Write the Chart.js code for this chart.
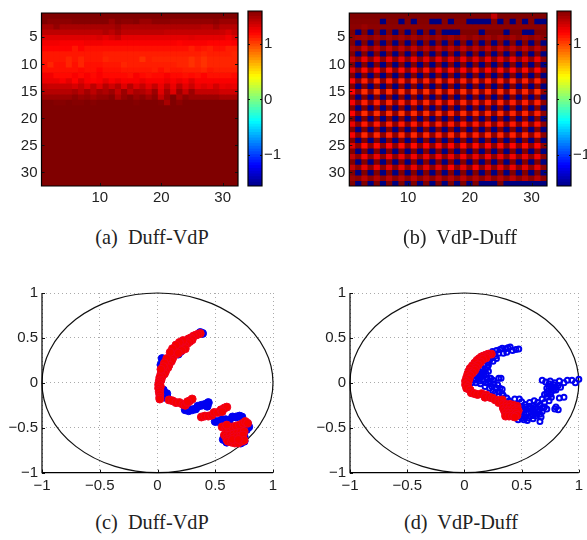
<!DOCTYPE html>
<html>
<head>
<title>Duff-VdP</title>
<script src="https://cdn.jsdelivr.net/npm/chart.js"></script>
<style>
    body { margin: 0; background: #fff; }
    #page { position: relative; width: 587px; height: 540px; overflow: hidden; }
    canvas { position: absolute; }
    .cap { position: absolute; width: 160px; text-align: center; font: 20.3px "Liberation Serif", serif; color: #222; white-space: pre; }
</style>
</head>
<body>
<div id="page">
    <canvas id="heatA" width="245" height="215" style="left:0;top:0"></canvas>
    <canvas id="barA" width="47" height="215" style="left:240px;top:0"></canvas>
    <canvas id="heatB" width="250" height="215" style="left:305px;top:0"></canvas>
    <canvas id="barB" width="38" height="215" style="left:549px;top:0"></canvas>
    <canvas id="scatC" width="287" height="215" style="left:0;top:280px"></canvas>
    <canvas id="scatD" width="279" height="215" style="left:308px;top:280px"></canvas>
    <div class="cap" style="left:72px;top:226px">(a)  Duff-VdP</div>
    <div class="cap" style="left:380px;top:226px">(b)  VdP-Duff</div>
    <div class="cap" style="left:72px;top:511px">(c)  Duff-VdP</div>
    <div class="cap" style="left:381px;top:511px">(d)  VdP-Duff</div>
</div>
<script>
const columns = ['1','2','3','4','5','6','7','8','9','10','11','12','13','14','15','16','17','18','19','20','21','22','23','24','25','26','27','28','29','30','31','32'];
const heatTicks = [5, 10, 15, 20, 25, 30];
const barTicks = [-1, 0, 1];
const unitTicks = [-1, -0.5, 0, 0.5, 1];
const barLevels = [-1.575,-1.525,-1.475,-1.425,-1.375,-1.325,-1.275,-1.225,-1.175,-1.125,-1.075,-1.025,-0.975,-0.925,-0.875,-0.825,-0.775,-0.725,-0.675,-0.625,-0.575,-0.525,-0.475,-0.425,-0.375,-0.325,-0.275,-0.225,-0.175,-0.125,-0.075,-0.025,0.025,0.075,0.125,0.175,0.225,0.275,0.325,0.375,0.425,0.475,0.525,0.575,0.625,0.675,0.725,0.775,0.825,0.875,0.925,0.975,1.025,1.075,1.125,1.175,1.225,1.275,1.325,1.375,1.425,1.475,1.525,1.575];

// (a) Duff-VdP, one row per line
const heatDuffVdp = [
[1.52,1.52,1.52,1.53,1.53,1.53,1.52,1.52,1.53,1.53,1.53,1.52,1.52,1.52,1.53,1.53,1.52,1.52,1.52,1.52,1.52,1.52,1.5,1.5,1.5,1.53,1.53,1.53,1.5,1.5,1.5,1.5],
[1.5,1.46,1.46,1.46,1.46,1.48,1.48,1.48,1.48,1.48,1.48,1.42,1.48,1.46,1.46,1.48,1.42,1.42,1.46,1.46,1.46,1.44,1.44,1.44,1.44,1.44,1.44,1.44,1.46,1.42,1.42,1.42],
[1.38,1.38,1.44,1.38,1.38,1.38,1.38,1.38,1.38,1.38,1.38,1.38,1.42,1.36,1.36,1.36,1.36,1.36,1.36,1.36,1.36,1.36,1.36,1.36,1.36,1.36,1.34,1.34,1.4,1.34,1.34,1.34],
[1.32,1.32,1.32,1.32,1.32,1.32,1.32,1.32,1.32,1.32,1.36,1.32,1.38,1.32,1.32,1.32,1.32,1.32,1.32,1.32,1.3,1.3,1.3,1.3,1.3,1.3,1.3,1.3,1.3,1.28,1.24,1.3],
[1.22,1.22,1.22,1.22,1.22,1.22,1.22,1.22,1.22,1.24,1.2,1.24,1.28,1.2,1.2,1.2,1.2,1.2,1.2,1.2,1.2,1.2,1.2,1.2,1.22,1.2,1.2,1.2,1.2,1.2,1.16,1.22],
[1.16,1.16,1.16,1.14,1.14,1.14,1.14,1.16,1.16,1.16,1.14,1.14,1.14,1.14,1.14,1.14,1.14,1.14,1.14,1.14,1.14,1.14,1.12,1.14,1.14,1.14,1.14,1.12,1.12,1.12,1.12,1.14],
[1.12,1.12,1.12,1.12,1.12,1.06,1.12,1.08,1.08,1.08,1.08,1.08,1.08,1.08,1.08,1.08,1.08,1.08,1.08,1.08,1.08,1.08,1.08,1.08,1.04,1.08,1.06,1.04,1.08,1.08,1.04,1.04],
[1.06,1.06,1.06,1.06,1.06,1.06,1.06,1.06,1.06,1.06,1.04,1.04,1.04,1.04,1.04,1.04,1.04,1.04,1.04,1.04,1.04,1.04,1.04,1.04,1.04,1.04,1.02,1.04,1.04,1.04,1.04,1.02],
[1.06,1.06,1.06,1.06,1.02,1.06,1.02,1.06,1.06,1.06,1.02,1.04,1.04,1.04,1.04,1.04,0.98,1.04,1.02,1.02,1.02,1.02,1.02,1.02,0.98,1.02,0.98,1.02,1.02,1.02,1.02,1.02],
[1.08,1.02,1.08,1.08,1.02,1.08,1.02,1.08,1.08,1.08,1.06,1.06,1.06,1.02,1.04,1.04,1.04,1.04,1.04,1.04,1.04,1.04,1.02,1.02,0.98,1.02,0.98,1.02,1.02,1.02,1.02,1.02],
[1.08,1.08,1.08,1.08,1.08,1.08,1.1,1.08,1.08,1.12,1.08,1.08,1.08,1.06,1.06,1.06,1.06,1.06,1.04,1.08,1.04,1.06,1.06,1.04,1.04,1.04,1.02,1.06,1.04,1.04,1.04,1.04],
[1.16,1.16,1.1,1.1,1.1,1.14,1.1,1.14,1.1,1.14,1.1,1.1,1.1,1.1,1.08,1.14,1.1,1.08,1.1,1.1,1.14,1.1,1.1,1.08,1.1,1.08,1.12,1.08,1.08,1.08,1.08,1.1],
[1.18,1.18,1.18,1.14,1.2,1.12,1.22,1.14,1.12,1.14,1.2,1.14,1.18,1.14,1.14,1.14,1.18,1.14,1.14,1.14,1.18,1.14,1.18,1.14,1.22,1.14,1.14,1.14,1.14,1.14,1.14,1.14],
[1.3,1.28,1.28,1.28,1.28,1.24,1.3,1.22,1.32,1.22,1.34,1.26,1.34,1.22,1.34,1.22,1.3,1.2,1.3,1.18,1.3,1.18,1.32,1.2,1.28,1.18,1.22,1.18,1.26,1.18,1.2,1.18],
[1.34,1.34,1.34,1.34,1.34,1.38,1.32,1.4,1.32,1.4,1.36,1.42,1.3,1.42,1.3,1.38,1.36,1.3,1.42,1.22,1.38,1.22,1.42,1.28,1.42,1.3,1.3,1.3,1.3,1.26,1.26,1.26],
[1.42,1.42,1.42,1.42,1.42,1.46,1.42,1.44,1.4,1.44,1.44,1.48,1.36,1.44,1.48,1.42,1.46,1.4,1.46,1.3,1.42,1.5,1.38,1.46,1.42,1.42,1.42,1.42,1.42,1.38,1.38,1.38],
[1.52,1.52,1.48,1.48,1.5,1.48,1.48,1.5,1.48,1.5,1.55,1.5,1.55,1.52,1.5,1.48,1.5,1.55,1.5,1.48,1.38,1.52,1.46,1.55,1.55,1.5,1.57,1.57,1.57,1.57,1.57,1.57],
[1.57,1.57,1.57,1.57,1.57,1.57,1.57,1.57,1.57,1.57,1.57,1.57,1.57,1.57,1.57,1.57,1.57,1.57,1.57,1.57,1.57,1.57,1.57,1.57,1.57,1.57,1.57,1.57,1.57,1.57,1.57,1.57],
[1.57,1.57,1.57,1.57,1.57,1.57,1.57,1.57,1.57,1.57,1.57,1.57,1.57,1.57,1.57,1.57,1.57,1.57,1.57,1.57,1.57,1.57,1.57,1.57,1.57,1.57,1.57,1.57,1.57,1.57,1.57,1.57],
[1.57,1.57,1.57,1.57,1.57,1.57,1.57,1.57,1.57,1.57,1.57,1.57,1.57,1.57,1.57,1.57,1.57,1.57,1.57,1.57,1.57,1.57,1.57,1.57,1.57,1.57,1.57,1.57,1.57,1.57,1.57,1.57],
[1.57,1.57,1.57,1.57,1.57,1.57,1.57,1.57,1.57,1.57,1.57,1.57,1.57,1.57,1.57,1.57,1.57,1.57,1.57,1.57,1.57,1.57,1.57,1.57,1.57,1.57,1.57,1.57,1.57,1.57,1.57,1.57],
[1.57,1.57,1.57,1.57,1.57,1.57,1.57,1.57,1.57,1.57,1.57,1.57,1.57,1.57,1.57,1.57,1.57,1.57,1.57,1.57,1.57,1.57,1.57,1.57,1.57,1.57,1.57,1.57,1.57,1.57,1.57,1.57],
[1.57,1.57,1.57,1.57,1.57,1.57,1.57,1.57,1.57,1.57,1.57,1.57,1.57,1.57,1.57,1.57,1.57,1.57,1.57,1.57,1.57,1.57,1.57,1.57,1.57,1.57,1.57,1.57,1.57,1.57,1.57,1.57],
[1.57,1.57,1.57,1.57,1.57,1.57,1.57,1.57,1.57,1.57,1.57,1.57,1.57,1.57,1.57,1.57,1.57,1.57,1.57,1.57,1.57,1.57,1.57,1.57,1.57,1.57,1.57,1.57,1.57,1.57,1.57,1.57],
[1.57,1.57,1.57,1.57,1.57,1.57,1.57,1.57,1.57,1.57,1.57,1.57,1.57,1.57,1.57,1.57,1.57,1.57,1.57,1.57,1.57,1.57,1.57,1.57,1.57,1.57,1.57,1.57,1.57,1.57,1.57,1.57],
[1.57,1.57,1.57,1.57,1.57,1.57,1.57,1.57,1.57,1.57,1.57,1.57,1.57,1.57,1.57,1.57,1.57,1.57,1.57,1.57,1.57,1.57,1.57,1.57,1.57,1.57,1.57,1.57,1.57,1.57,1.57,1.57],
[1.57,1.57,1.57,1.57,1.57,1.57,1.57,1.57,1.57,1.57,1.57,1.57,1.57,1.57,1.57,1.57,1.57,1.57,1.57,1.57,1.57,1.57,1.57,1.57,1.57,1.57,1.57,1.57,1.57,1.57,1.57,1.57],
[1.57,1.57,1.57,1.57,1.57,1.57,1.57,1.57,1.57,1.57,1.57,1.57,1.57,1.57,1.57,1.57,1.57,1.57,1.57,1.57,1.57,1.57,1.57,1.57,1.57,1.57,1.57,1.57,1.57,1.57,1.57,1.57],
[1.57,1.57,1.57,1.57,1.57,1.57,1.57,1.57,1.57,1.57,1.57,1.57,1.57,1.57,1.57,1.57,1.57,1.57,1.57,1.57,1.57,1.57,1.57,1.57,1.57,1.57,1.57,1.57,1.57,1.57,1.57,1.57],
[1.57,1.57,1.57,1.57,1.57,1.57,1.57,1.57,1.57,1.57,1.57,1.57,1.57,1.57,1.57,1.57,1.57,1.57,1.57,1.57,1.57,1.57,1.57,1.57,1.57,1.57,1.57,1.57,1.57,1.57,1.57,1.57],
[1.57,1.57,1.57,1.57,1.57,1.57,1.57,1.57,1.57,1.57,1.57,1.57,1.57,1.57,1.57,1.57,1.57,1.57,1.57,1.57,1.57,1.57,1.57,1.57,1.57,1.57,1.57,1.57,1.57,1.57,1.57,1.57],
[1.57,1.57,1.57,1.57,1.57,1.57,1.57,1.57,1.57,1.57,1.57,1.57,1.57,1.57,1.57,1.57,1.57,1.57,1.57,1.57,1.57,1.57,1.57,1.57,1.57,1.57,1.57,1.57,1.57,1.57,1.57,1.57]
];

// (b) VdP-Duff
const heatVdpDuff = [
[1.5,1.5,1.5,1.5,1.5,1.5,1.5,1.5,1.5,1.5,1.5,1.5,1.5,1.5,1.5,1.5,1.5,1.5,1.5,1.5,1.5,1.5,1.5,1.3,1.5,1.5,1.5,1.5,1.5,1.5,1.5,1.5],
[1.48,1.48,1.48,1.48,1.48,-1.5,1.48,1.48,-1.5,1.48,-1.5,1.48,1.48,-1.5,-1.5,1.48,-1.5,1.48,1.48,-1.5,-1.5,-1.5,-1.5,1.48,-1.5,1.48,-1.5,1.48,-1.5,1.48,-1.5,-1.5],
[1.46,1.46,1.42,1.46,1.46,1.46,1.46,1.46,1.46,1.46,1.46,1.46,1.46,1.46,1.46,1.46,1.46,1.46,1.46,1.46,1.46,1.46,1.46,1.46,1.46,1.46,1.46,1.46,1.46,1.46,1.46,1.46],
[1.5,-1.5,1.5,-1.5,1.5,-1.5,1.5,-1.5,1.5,-1.5,1.5,-1.5,1.5,-1.5,1.5,-1.5,-1.5,-1.5,1.5,1.5,1.5,-1.5,1.5,1.5,1.5,-1.5,1.5,1.5,-1.5,-1.5,1.5,1.5],
[1.46,1.42,1.4,1.46,1.4,1.46,1.4,1.46,1.4,1.46,1.4,1.46,1.4,1.46,1.4,1.46,1.4,1.46,1.4,1.46,1.4,1.46,1.4,1.46,1.4,1.46,1.4,1.46,1.4,1.46,1.4,1.46],
[1.5,-1.5,1.5,-1.5,1.5,-1.5,1.5,-1.5,1.5,-1.5,1.5,-1.5,1.5,-1.5,1.5,-1.5,1.5,-1.5,1.5,-1.5,1.5,-1.5,1.5,-1.5,1.5,-1.5,1.5,-1.5,1.5,-1.5,1.5,-1.5],
[1.4,1.46,1.28,1.46,1.32,1.46,1.3,1.46,1.32,1.46,1.3,1.46,1.32,1.46,1.3,1.46,1.32,1.46,1.3,1.46,1.32,1.46,1.3,1.46,1.3,1.46,1.32,1.46,1.3,1.46,1.32,1.46],
[1.5,-1.5,1.5,-1.5,1.5,-1.5,1.5,-1.5,1.5,-1.5,1.5,-1.5,1.5,-1.5,1.5,-1.5,1.5,-1.5,1.5,-1.5,1.5,-1.5,1.5,-1.5,1.5,-1.5,1.5,-1.5,1.5,-1.5,1.5,-1.5],
[1.3,1.46,1.18,1.46,1.2,1.46,1.18,1.46,1.2,1.46,1.18,1.46,1.2,1.46,1.18,1.46,1.2,1.46,1.18,1.46,1.2,1.46,1.18,1.46,1.2,1.46,1.18,1.46,1.2,1.46,1.18,1.46],
[1.5,-1.5,1.5,-1.5,1.5,-1.5,1.5,-1.5,1.5,-1.5,1.5,-1.5,1.5,-1.5,1.5,-1.5,1.5,-1.5,1.5,-1.5,1.5,-1.5,1.5,-1.5,1.5,-1.5,1.5,-1.5,1.5,-1.5,1.5,-1.5],
[1.22,1.46,1.1,1.46,1.12,1.46,1.08,1.46,1.1,1.46,1.12,1.46,1.08,1.46,1.12,1.46,1.1,1.46,1.12,1.46,1.08,1.46,1.12,1.46,1.1,1.46,1.12,1.46,1.1,1.46,1.12,1.46],
[1.5,-1.5,1.5,-1.5,1.5,-1.5,1.5,-1.5,1.5,-1.5,1.5,-1.5,1.5,-1.5,1.5,-1.5,1.5,-1.5,1.5,-1.5,1.5,-1.5,1.5,-1.5,1.5,-1.5,1.5,-1.5,1.5,-1.5,1.5,-1.5],
[1.12,1.46,1.04,1.46,1.02,1.46,1.04,1.46,1.04,1.46,1.02,1.46,1.04,1.46,1.02,1.46,1.04,1.46,1.04,1.46,1.02,1.46,1.04,1.46,1.04,1.46,1.02,1.46,1.04,1.46,1.04,1.46],
[1.5,-1.5,1.5,-1.5,1.5,-1.5,1.5,-1.5,1.5,-1.5,1.5,-1.5,1.5,-1.5,1.5,-1.5,1.5,-1.5,1.5,-1.5,1.5,-1.5,1.5,-1.5,1.5,-1.5,1.5,-1.5,1.5,-1.5,1.5,-1.5],
[1.12,1.46,1.0,1.46,0.98,1.46,1.0,1.46,1.0,1.46,0.98,1.46,1.0,1.46,1.0,1.46,1.02,1.46,1.0,1.46,1.0,1.46,1.02,1.46,1.0,1.46,1.0,1.46,1.02,1.46,1.0,1.46],
[1.5,-1.5,1.5,-1.5,1.5,-1.5,1.5,-1.5,1.5,-1.5,1.5,-1.5,1.5,-1.5,1.5,-1.5,1.5,-1.5,1.5,-1.5,1.5,-1.5,1.5,-1.5,1.5,-1.5,1.5,-1.5,1.5,-1.5,1.5,-1.5],
[1.14,1.46,1.04,1.46,1.04,1.46,1.02,1.46,1.04,1.46,1.04,1.46,1.02,1.46,1.04,1.46,1.04,1.46,1.02,1.46,1.04,1.46,1.04,1.46,1.02,1.46,1.04,1.46,1.04,1.46,1.04,1.46],
[1.5,-1.5,1.5,-1.5,1.5,-1.5,1.5,-1.5,1.5,-1.5,1.5,-1.5,1.5,-1.5,1.5,-1.5,1.5,-1.5,1.5,-1.5,1.5,-1.5,1.5,-1.5,1.5,-1.5,1.5,-1.5,1.5,-1.5,1.5,-1.5],
[1.12,1.46,1.0,1.46,1.0,1.46,1.0,1.46,0.98,1.46,1.0,1.46,1.0,1.46,1.0,1.46,1.02,1.46,1.0,1.46,1.0,1.46,1.02,1.46,1.0,1.46,1.02,1.46,1.02,1.46,1.04,1.46],
[1.5,-1.5,1.5,-1.5,1.5,-1.5,1.5,-1.5,1.5,-1.5,1.5,-1.5,1.5,-1.5,1.5,-1.5,1.5,-1.5,1.5,-1.5,1.5,-1.5,1.5,-1.5,1.5,-1.5,1.5,-1.5,1.5,-1.5,1.5,-1.5],
[1.18,1.46,1.06,1.46,1.06,1.46,1.04,1.46,1.06,1.46,1.06,1.46,1.06,1.46,1.04,1.46,1.06,1.46,1.06,1.46,1.06,1.46,1.06,1.46,1.06,1.46,1.06,1.46,1.06,1.46,1.08,1.46],
[1.5,-1.5,1.5,-1.5,1.5,-1.5,1.5,-1.5,1.5,-1.5,1.5,-1.5,1.5,-1.5,1.5,-1.5,1.5,-1.5,1.5,-1.5,1.5,-1.5,1.5,-1.5,1.5,-1.5,1.5,-1.5,1.5,-1.5,1.5,-1.5],
[1.14,1.46,1.02,1.46,1.02,1.46,1.04,1.46,1.02,1.46,1.02,1.46,1.02,1.46,1.04,1.46,1.02,1.46,1.02,1.46,1.04,1.46,1.02,1.46,1.02,1.46,1.04,1.46,1.02,1.46,1.04,1.46],
[1.5,-1.5,1.5,-1.5,1.5,-1.5,1.5,-1.5,1.5,-1.5,1.5,-1.5,1.5,-1.5,1.5,-1.5,1.5,-1.5,1.5,-1.5,1.5,-1.5,1.5,-1.5,1.5,-1.5,1.5,-1.5,1.5,-1.5,1.5,-1.5],
[1.22,1.46,1.1,1.46,1.1,1.46,1.12,1.46,1.1,1.46,1.1,1.46,1.12,1.46,1.1,1.46,1.12,1.46,1.1,1.46,1.1,1.46,1.12,1.46,1.1,1.46,1.12,1.46,1.1,1.46,1.12,1.46],
[1.5,-1.5,1.5,-1.5,1.5,-1.5,1.5,-1.5,1.5,-1.5,1.5,-1.5,1.5,-1.5,1.5,-1.5,1.5,-1.5,1.5,-1.5,1.5,-1.5,1.5,-1.5,1.5,-1.5,1.5,-1.5,1.5,-1.5,1.5,-1.5],
[1.3,1.46,1.16,1.46,1.18,1.46,1.16,1.46,1.18,1.46,1.16,1.46,1.18,1.46,1.16,1.46,1.18,1.46,1.16,1.46,1.18,1.46,1.16,1.46,1.18,1.46,1.16,1.46,1.18,1.46,1.16,1.46],
[1.5,-1.5,1.5,-1.5,1.5,-1.5,1.5,-1.5,1.5,-1.5,1.5,-1.5,1.5,-1.5,1.5,-1.5,1.5,-1.5,1.5,-1.5,1.5,-1.5,1.5,-1.5,1.5,-1.5,1.5,-1.5,1.5,-1.5,1.5,-1.5],
[1.3,1.46,1.2,1.46,1.18,1.46,1.2,1.46,1.2,1.46,1.18,1.46,1.2,1.46,1.2,1.46,1.14,1.46,1.2,1.46,1.14,1.46,1.2,1.46,1.2,1.46,1.18,1.46,1.2,1.46,1.2,1.46],
[1.5,-1.5,1.5,-1.5,1.5,-1.5,1.5,-1.5,1.5,-1.5,1.5,-1.5,1.5,-1.5,1.5,-1.5,1.5,-1.5,1.5,-1.5,1.5,-1.5,1.5,-1.5,1.5,-1.5,1.5,-1.5,1.5,-1.5,1.5,-1.5],
[1.42,1.46,1.32,1.46,1.34,1.46,1.32,1.46,1.34,1.46,1.32,1.46,1.34,1.46,1.32,1.46,1.34,1.46,1.32,1.46,1.34,1.46,1.32,1.46,1.34,1.46,1.32,1.46,1.34,1.46,1.32,1.46],
[1.5,-1.5,1.5,-1.5,1.5,-1.5,1.5,-1.5,1.5,-1.5,1.5,-1.5,1.5,-1.5,1.5,-1.5,1.5,-1.5,1.5,-1.5,1.5,-1.5,-1.5,-1.5,1.5,-1.5,-1.5,-1.5,-1.5,-1.5,-1.5,-1.5]
];

// (c) Duff-VdP disk points
const duffBlue = [[.37,.56],[.39,.55],[.2,.35],[.18,.32],[.04,.27],[.06,.26],[.05,.24],[.03,.2],[.05,-.08],[.05,-.11],[.08,-.12],[.08,-.15],[.06,-.16],
[.24,-.3],[.27,-.31],[.3,-.3],[.33,-.29],[.35,-.26],[.38,-.25],[.41,-.24],[.44,-.22],[.43,-.26],
[.5,-.43],[.53,-.43],[.56,-.41],[.59,-.41],[.62,-.42],[.65,-.38],[.68,-.38],[.71,-.37],[.73,-.38],
[.78,-.46],[.79,-.49],[.77,-.52],[.72,-.52],[.66,-.53],[.75,-.6],[.75,-.65],[.58,-.6],[.57,-.63],[.6,-.66],[.72,-.67]];
const duffRed = [[.37,.55],[.35,.54],[.33,.53],[.31,.52],[.29,.5],[.27,.49],[.3,.48],[.25,.47],[.28,.46],[.23,.45],[.26,.44],[.21,.43],[.24,.41],[.19,.42],[.22,.39],[.17,.4],[.2,.37],[.15,.38],[.18,.35],[.14,.35],[.16,.32],[.13,.32],[.14,.3],[.11,.28],[.13,.27],[.1,.25],[.12,.24],[.08,.22],[.1,.2],[.07,.19],[.09,.17],[.06,.16],[.07,.13],[.04,.13],[.06,.1],[.03,.1],[.04,.07],[.02,.06],[.03,.03],[.015,.02],[.02,0],[.01,-.02],[.025,-.04],[.01,-.06],[.02,-.08],[.015,-.1],[.02,-.13],[.02,-.16],[.02,-.18],
[.22,.47],[.19,.45],[.16,.42],[.13,.38],[.11,.34],[.24,.38],[.21,.36],[.18,.33],[.08,.27],[.06,.22],[.05,.18],[.03,.15],
[.1,-.19],[.13,-.2],[.16,-.22],[.19,-.22],[.22,-.24],[.24,-.25],[.26,-.22],[.28,-.2],[.3,-.18],[.26,-.21],
[.38,-.38],[.41,-.37],[.44,-.37],[.47,-.36],[.49,-.33],[.52,-.33],[.55,-.3],[.58,-.28],[.6,-.27],[.56,-.32],
[.56,-.49],[.59,-.5],[.62,-.5],[.65,-.49],[.68,-.48],[.71,-.47],[.74,-.45],[.76,-.43],[.78,-.45],[.6,-.47],
[.58,-.58],[.6,-.6],[.63,-.58],[.66,-.57],[.69,-.56],[.72,-.55],[.75,-.54],[.6,-.63],[.63,-.62],[.66,-.6],[.69,-.6],[.72,-.59],[.74,-.58],[.61,-.65],[.64,-.66],[.67,-.67],[.7,-.67],[.73,-.65],[.75,-.64],[.65,-.63],[.7,-.63]];

// (d) VdP-Duff disk points
const vdpBlue = [[.245,.35],[.28,.36],[.31,.37],[.33,.385],[.36,.38],[.38,.39],[.4,.4],[.42,.36],[.45,.37],[.475,.377],[.3,.33],[.34,.33],[.37,.34],[.27,.3],[.24,.28],[.22,.25],[.2,.23],[.21,.2],[.2,.17],[.18,.15],[.16,.12],[.19,.1],[.21,.13],[.15,.07],[.12,.05],[.09,.03],[.06,0],[.1,0],[.14,-.01],[.17,.02],[.2,.04],[.23,.05],[.25,.03],[.3,.05],[.32,.05],[.26,-.01],[.29,-.02],[.22,-.06],[.25,-.09],[.3,-.1],[.33,-.07],[.34,-.14],[.37,-.17],[.39,-.2],[.44,-.18],[.48,-.18],[.5,-.21],
[.25,.24],[.28,.27],[.17,.2],[.15,.17],[.13,.13],[.12,.09],[.16,.04],[.19,.0],[.22,.02],[.14,.1],[.17,.08],[.1,.04],[.13,.02],[.18,-.04],[.24,-.04],[.28,-.06],[.27,-.11],[.31,-.06],[.33,-.12],
[.45,-.24],[.48,-.28],[.52,-.3],[.5,-.36],[.53,-.38],[.56,-.33],[.58,-.37],[.6,-.35],[.63,-.34],[.67,-.38],[.57,-.29],[.6,-.29],[.64,-.29],[.68,-.28],[.72,-.29],[.53,-.24],[.57,-.22],[.61,-.2],[.6,-.25],[.64,-.22],[.68,-.18],[.72,-.16],[.76,-.16],[.83,-.17],[.87,-.16],[.7,-.13],[.73,-.09],[.76,-.06],[.78,-.02],[.74,-.01],[.71,.01],[.68,.03],[.75,.02],[.83,.02],[.87,0],[.9,.03],[.94,.03],[.97,.0],[1,.04],[.8,-.08],[.84,-.05],[.76,-.1],[.79,-.29],[.82,-.3],[.8,-.27],[.55,-.42],[.6,-.4],[.66,-.43],[.48,-.35],[.52,-.41],[.45,-.38],
[.47,-.31],[.5,-.26],[.5,-.32],[.54,-.27],[.54,-.34],[.57,-.26],[.58,-.32],[.61,-.32],[.62,-.27],[.65,-.32],[.68,-.32],[.62,-.37],[.56,-.39],[.5,-.39],[.47,-.41],[.66,-.25],[.7,-.22],[.74,-.2],[.7,-.27],[.66,-.35],[.72,-.12],[.75,-.13],[.78,-.08],[.8,-.05],[.82,-.03],[.77,-.04],[.79,.0],[.74,-.04],[.72,-.06]];
const vdpRed = [[.235,.32],[.21,.32],[.19,.31],[.17,.3],[.19,.28],[.15,.29],[.13,.27],[.16,.26],[.11,.25],[.14,.23],[.09,.22],[.12,.2],[.07,.19],[.1,.17],[.05,.16],[.09,.14],[.04,.13],[.07,.11],[.03,.1],[.05,.08],[.02,.06],[.04,.04],[.01,.02],[.03,0],[.01,-.02],[.03,-.04],[.02,-.06],[.05,-.08],[.06,-.11],[.09,-.12],[.115,-.13],[.15,-.12],[.19,-.135],[.18,-.16],[.22,-.16],[.245,-.17],[.27,-.19],[.3,-.195],[.3,-.22],[.33,-.19],
[.34,-.24],[.37,-.24],[.4,-.24],[.43,-.25],[.46,-.26],[.34,-.28],[.37,-.27],[.4,-.27],[.43,-.28],[.46,-.29],[.35,-.31],[.38,-.31],[.41,-.31],[.44,-.31],[.47,-.31],[.36,-.34],[.39,-.34],[.42,-.34],[.45,-.34],[.46,-.36],[.36,-.37],[.39,-.37],[.42,-.37],[.44,-.38]];

// jet colormap, lim is the data value that reaches the dark ends
function jet(v, lim) {
    const t = Math.min(1, Math.max(0, (v + lim) / (2 * lim)));
    const ch = c => Math.round(255 * Math.min(1, Math.max(0, c)));
    return `rgb(${ch(Math.min(4 * t - 1.5, 4.5 - 4 * t))},${ch(Math.min(4 * t - 0.5, 3.5 - 4 * t))},${ch(Math.min(4 * t + 0.5, 2.5 - 4 * t))})`;
}

const tickFont = { family: '"Liberation Sans", Arial, sans-serif', size: 15 };
const minus = v => String(v).replace('-', '\u2212');

function fit(size, prop) {
    return scale => { scale[prop] = size; };
}

// chart area border and the small matlab ticks that point inward
function framePlugin(full) {
    return {
        id: 'frame',
        beforeDatasetsDraw(chart) {
            if (!full) return;
            const a = chart.chartArea, ctx = chart.ctx;
            ctx.fillStyle = full;
            ctx.fillRect(a.left, a.top, a.right - a.left, a.bottom - a.top);
        },
        afterDraw(chart) {
            const a = chart.chartArea, ctx = chart.ctx, sx = chart.scales.x, sy = chart.scales.y;
            ctx.save();
            ctx.strokeStyle = '#111';
            ctx.lineWidth = 1;
            ctx.beginPath();
            const tick = (x0, y0, x1, y1) => { ctx.moveTo(x0, y0); ctx.lineTo(x1, y1); };
            sx.ticks.forEach((t, i) => {
                if (t.label === '' || sx.getLabels && sx.getLabels().length === 1) return;
                const x = Math.round(sx.getPixelForTick(i)) + .5;
                tick(x, a.bottom, x, a.bottom - 3);
                if (full) tick(x, a.top, x, a.top + 3);
            });
            sy.ticks.forEach((t, i) => {
                const y = Math.round(sy.getPixelForTick(i)) + .5;
                if (sy.position === 'right') { tick(a.left, y, a.left + 2, y); tick(a.right, y, a.right - 2, y); return; }
                tick(a.left, y, a.left + 3, y);
                if (full) tick(a.right, y, a.right - 3, y);
            });
            ctx.stroke();
            ctx.strokeStyle = '#000';
            ctx.lineWidth = 1.2;
            ctx.beginPath();
            if (full) {
                ctx.rect(a.left, a.top, a.right - a.left, a.bottom - a.top);
            } else {
                ctx.moveTo(a.left, a.top); ctx.lineTo(a.left, a.bottom); ctx.lineTo(a.right, a.bottom);
            }
            ctx.stroke();
            ctx.restore();
        }
    };
}

const unitCircle = {
    id: 'unitCircle',
    beforeDatasetsDraw(chart) {
        const { x, y } = chart.scales, ctx = chart.ctx;
        const cx = x.getPixelForValue(0), cy = y.getPixelForValue(0);
        ctx.save();
        ctx.strokeStyle = '#111';
        ctx.lineWidth = 1.2;
        ctx.beginPath();
        ctx.ellipse(cx, cy, x.getPixelForValue(1) - cx, cy - y.getPixelForValue(1), 0, 0, 2 * Math.PI);
        ctx.stroke();
        ctx.restore();
    }
};

function heatChart(id, rows, leftW, rightPad) {
    new Chart(document.getElementById(id), {
        type: 'bar',
        data: {
            labels: columns,
            datasets: rows.map((row, r) => ({
                data: row.map(() => [r + 0.5, r + 1.5]),
                backgroundColor: row.map(v => jet(v, 1.5)),
                borderWidth: 0,
                grouped: false,
                barPercentage: 1,
                categoryPercentage: 1
            }))
        },
        options: {
            responsive: false,
            animation: false,
            layout: { padding: { top: 4, right: rightPad, left: 0, bottom: 0 } },
            plugins: { legend: { display: false }, tooltip: { enabled: false } },
            scales: {
                x: {
                    grid: { display: false, drawTicks: false },
                    border: { display: false },
                    afterFit: fit(29, 'height'),
                    ticks: {
                        font: tickFont, color: '#222', padding: 3, autoSkip: false, maxRotation: 0,
                        callback(v) { const l = this.getLabelForValue(v); return l % 10 === 0 ? l : ''; }
                    }
                },
                y: {
                    reverse: true, min: 0.5, max: 32.5,
                    grid: { display: false, drawTicks: false },
                    border: { display: false },
                    afterFit: fit(leftW, 'width'),
                    afterBuildTicks(s) { s.ticks = heatTicks.map(value => ({ value })); },
                    ticks: { font: tickFont, color: '#222', padding: 4 }
                }
            }
        },
        plugins: [framePlugin('#800000')]
    });
}

function barChart(id, leftPad, w) {
    new Chart(document.getElementById(id), {
        type: 'bar',
        data: {
            labels: [''],
            datasets: barLevels.map(v => ({
                data: [[v - 0.03, v + 0.03]],
                backgroundColor: jet(v, 1.6),
                borderWidth: 0,
                grouped: false,
                barPercentage: 1,
                categoryPercentage: 1
            }))
        },
        options: {
            responsive: false,
            animation: false,
            layout: { padding: { top: 4, left: leftPad, right: 0, bottom: 0 } },
            plugins: { legend: { display: false }, tooltip: { enabled: false } },
            scales: {
                x: { display: true, grid: { display: false, drawTicks: false }, border: { display: false }, ticks: { display: false }, afterFit: fit(29, 'height') },
                y: {
                    position: 'right', min: -1.565, max: 1.6,
                    grid: { display: false, drawTicks: false },
                    border: { display: false },
                    afterFit: fit(w, 'width'),
                    afterBuildTicks(s) { s.ticks = barTicks.map(value => ({ value })); },
                    ticks: { font: tickFont, color: '#222', padding: 2, callback: minus }
                }
            }
        },
        plugins: [framePlugin('#800000')]
    });
}

function diskChart(id, blue, red, leftW, rightPad, open) {
    const pts = list => list.map(p => ({ x: p[0], y: p[1] }));
    new Chart(document.getElementById(id), {
        type: 'scatter',
        data: {
            datasets: [
                // first dataset is painted last, red stays on top
                { data: pts(red), pointRadius: 4, borderWidth: 1, borderColor: '#f00020', backgroundColor: '#f50000', clip: false },
                { data: pts(blue), pointRadius: open ? 2.5 : 4, borderWidth: open ? 2 : 1, borderColor: '#0000f0', backgroundColor: open ? 'rgba(255,255,255,0)' : '#0000f0', clip: false }
            ]
        },
        options: {
            responsive: false,
            animation: false,
            layout: { padding: { top: 10.7, right: rightPad, left: 0, bottom: 0 } },
            plugins: { legend: { display: false }, tooltip: { enabled: false } },
            scales: {
                x: {
                    type: 'linear', min: -1, max: 1,
                    grid: { color: '#aaa', drawTicks: false },
                    border: { display: false, dash: [1, 3] },
                    afterFit: fit(22.3, 'height'),
                    afterBuildTicks(s) { s.ticks = unitTicks.map(value => ({ value })); },
                    ticks: { font: tickFont, color: '#222', padding: 4, maxRotation: 0, callback: minus }
                },
                y: {
                    min: -1, max: 1,
                    grid: { color: '#aaa', drawTicks: false },
                    border: { display: false, dash: [1, 3] },
                    afterFit: fit(leftW, 'width'),
                    afterBuildTicks(s) { s.ticks = unitTicks.map(value => ({ value })); },
                    ticks: { font: tickFont, color: '#222', padding: 4, callback: minus }
                }
            }
        },
        plugins: [unitCircle, framePlugin(null)]
    });
}

heatChart('heatA', heatDuffVdp, 41.5, 7);
barChart('barA', 8, 25);
heatChart('heatB', heatVdpDuff, 44.3, 8);
barChart('barB', 8, 16);
diskChart('scatC', duffBlue, duffRed, 42, 14, false);
diskChart('scatD', vdpBlue, vdpRed, 42, 5.5, true);
</script>
</body>
</html>
